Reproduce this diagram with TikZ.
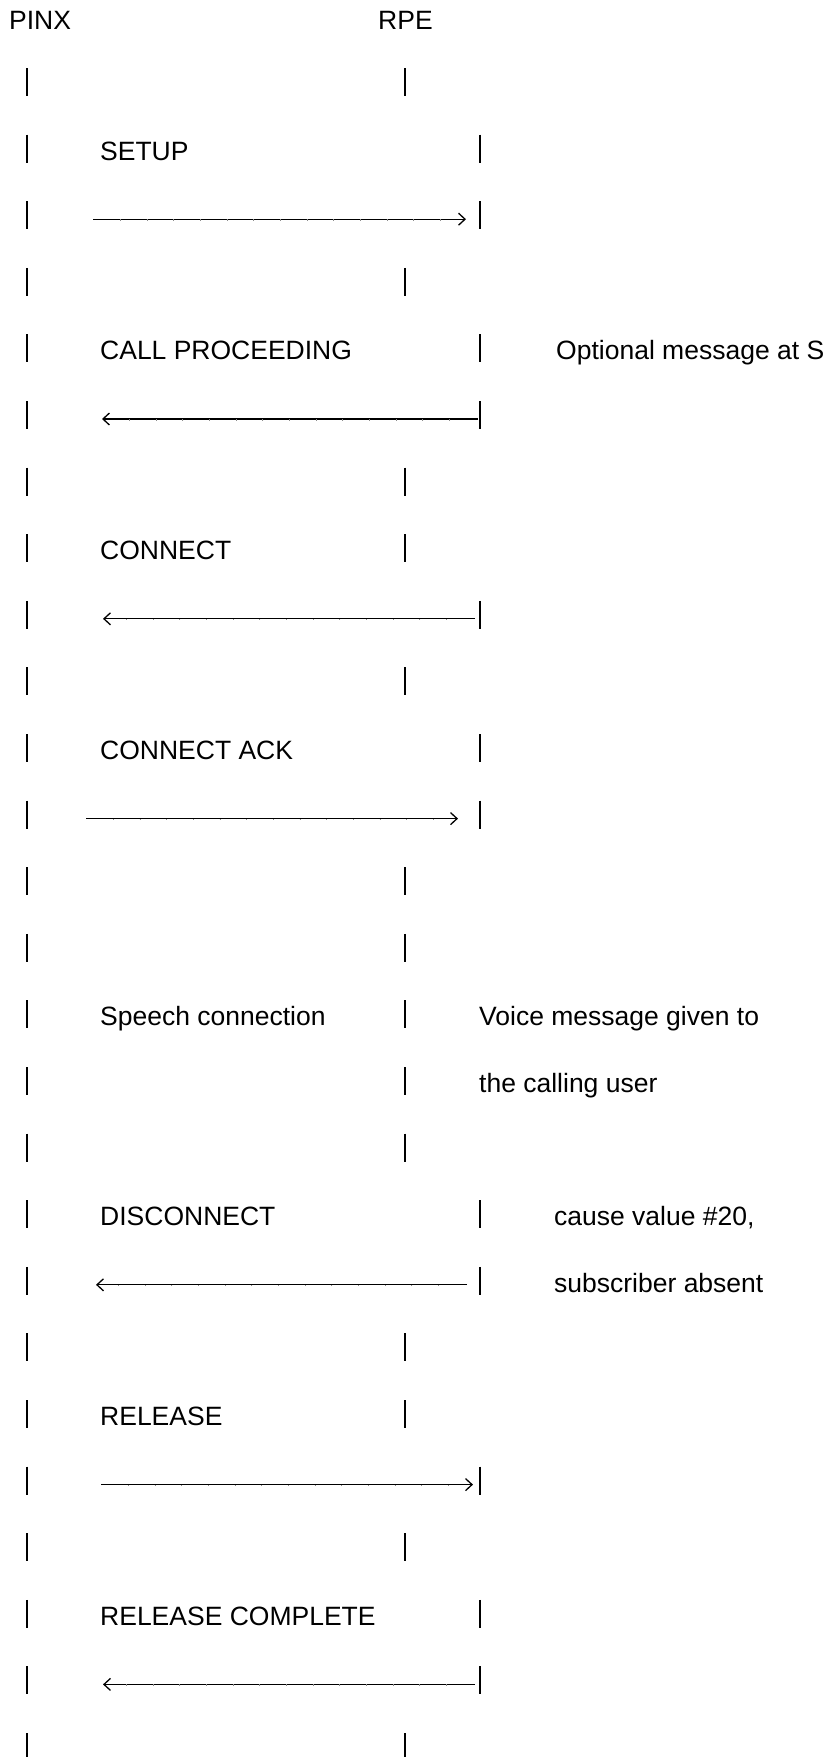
\documentclass[tikz,border=0pt]{standalone}
\usepackage{fontspec}
\setmainfont{Liberation Sans}
\usetikzlibrary{arrows.meta}
\newcommand\Y[1]{(82+66.6*(#1-1))}
\tikzset{
  lbl/.style={anchor=base west, inner sep=0pt, font=\fontsize{26.5}{30}\selectfont},
  life/.style={line width=2.3pt, line cap=butt},
  msg/.style={line width=1.3pt, -{Straight Barb[length=6.5pt,width=12pt,line width=1.3pt]}},
  tickmarks/.style={line width=1.6pt, black!45, dash pattern=on 0.9pt off 25.77pt}
}
\begin{document}
\begin{tikzpicture}[x=1pt,y=-1pt]
\useasboundingbox (0,0) rectangle (827,1757);
\clip (0,0) rectangle (827,1757);
% headers
\node[lbl] (pinx) at (9,29) {PINX};
\node[lbl] (rpe) at (378,29) {RPE};
% lifeline bars
\foreach \k/\rx in {1/405,2/480,3/480,4/405,5/480,6/480,7/405,8/405,9/480,10/405,
  11/480,12/480,13/405,14/405,15/405,16/405,17/405,18/480,19/480,20/405,
  21/405,22/480,23/405,24/480,25/480,26/405}{
  \coordinate (L\k) at (27,{\Y{\k}});
  \coordinate (R\k) at (\rx,{\Y{\k}});
  \draw[life] ([yshift=14pt]L\k) -- ([yshift=-14pt]L\k);
  \draw[life] ([yshift=14pt]R\k) -- ([yshift=-14pt]R\k);
}
% message labels
\node[lbl] (setup) at (100,{\Y{2}+11.5}) {SETUP};
\node[lbl] (callproc) at (100,{\Y{5}+11.5}) {CALL PROCEEDING};
\node[lbl] (optional) at (556,{\Y{5}+11.5}) {Optional message at S};
\node[lbl] (connect) at (100,{\Y{8}+11.5}) {CONNECT};
\node[lbl] (connack) at (100,{\Y{11}+11.5}) {CONNECT ACK};
\node[lbl] (speech) at (100,{\Y{15}+11.5}) {Speech connection};
\node[lbl] (voice1) at (479,{\Y{15}+11.5}) {Voice message given to};
\node[lbl] (voice2) at (479,{\Y{16}+11.5}) {the calling user};
\node[lbl] (disc) at (100,{\Y{18}+11.5}) {DISCONNECT};
\node[lbl] (cause1) at (554,{\Y{18}+11.5}) {cause value \#20,};
\node[lbl] (cause2) at (554,{\Y{19}+11.5}) {subscriber absent};
\node[lbl] (rel) at (100,{\Y{21}+11.5}) {RELEASE};
\node[lbl] (relcomp) at (100,{\Y{24}+11.5}) {RELEASE COMPLETE};
% arrow end points (a = left end, b = right end)
\coordinate (a3) at (93,{\Y{3}+4});   \coordinate (b3) at (466,{\Y{3}+4});
\coordinate (a6) at (102,{\Y{6}+4});  \coordinate (b6) at (478,{\Y{6}+4});
\coordinate (a9) at (103,{\Y{9}+4});  \coordinate (b9) at (475,{\Y{9}+4});
\coordinate (a12) at (86,{\Y{12}+4}); \coordinate (b12) at (458,{\Y{12}+4});
\coordinate (a19) at (96,{\Y{19}+4}); \coordinate (b19) at (467,{\Y{19}+4});
\coordinate (a22) at (101,{\Y{22}+4}); \coordinate (b22) at (473,{\Y{22}+4});
\coordinate (a25) at (103,{\Y{25}+4}); \coordinate (b25) at (475,{\Y{25}+4});
% rightward messages
\foreach \k in {3,12,22}{
  \draw[msg] (a\k) -- (b\k);
  \draw[tickmarks] ([xshift=27pt,yshift=-0.8pt]a\k) -- ([xshift=-8pt,yshift=-0.8pt]b\k);
}
% leftward messages
\foreach \k in {6,9,19,25}{
  \draw[msg] (b\k) -- (a\k);
  \draw[tickmarks] ([xshift=-28pt,yshift=-0.8pt]b\k) -- ([xshift=8pt,yshift=-0.8pt]a\k);
}
\end{tikzpicture}
\end{document}
